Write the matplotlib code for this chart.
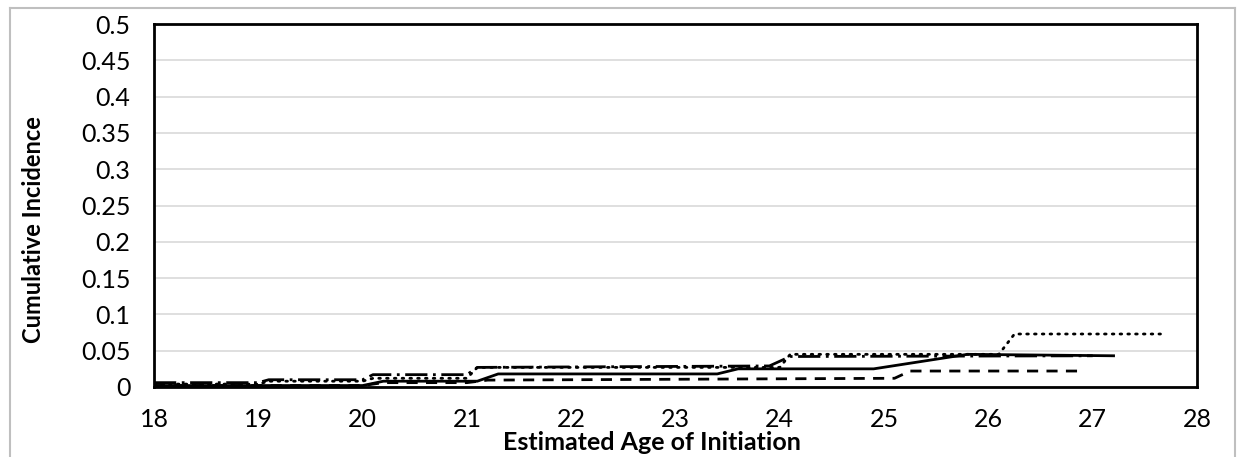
import matplotlib
matplotlib.use("Agg")
import matplotlib.pyplot as plt
from matplotlib.lines import Line2D

plt.rcParams['font.family'] = ['Lato', 'DejaVu Sans']

# ---- data ----
age_solid = [18.0, 20.0, 20.2, 21.1, 21.3, 23.4, 23.6, 24.9, 25.8, 27.2]
ci_solid = [0.002, 0.002, 0.008, 0.008, 0.018, 0.018, 0.025, 0.025, 0.045, 0.043]

age_dashed = [18.0, 20.0, 20.2, 21.0, 21.2, 25.1, 25.25, 26.9]
ci_dashed = [0.002, 0.002, 0.006, 0.006, 0.0095, 0.012, 0.022, 0.022]

age_dotted = [18.0, 19.0, 19.1, 20.0, 20.1, 21.0, 21.1, 24.0, 24.1, 26.1, 26.25, 27.65]
ci_dotted = [0.004, 0.004, 0.008, 0.008, 0.012, 0.012, 0.027, 0.027, 0.045, 0.045, 0.073, 0.073]

age_dashdot = [18.0, 19.0, 19.1, 20.0, 20.1, 21.0, 21.1, 23.9, 24.1, 27.0]
ci_dashdot = [0.006, 0.006, 0.010, 0.010, 0.017, 0.017, 0.027, 0.029, 0.042, 0.043]

x_ticks = [18, 19, 20, 21, 22, 23, 24, 25, 26, 27, 28]
y_ticks = [0, 0.05, 0.1, 0.15, 0.2, 0.25, 0.3, 0.35, 0.4, 0.45, 0.5]
y_tick_labels = ['0', '0.05', '0.1', '0.15', '0.2', '0.25', '0.3', '0.35', '0.4', '0.45', '0.5']

W, H = 1240, 457
fig = plt.figure(figsize=(W / 100, H / 100), dpi=100)

# outer grey frame (chart area border)
frame_col = '#bfbfbf'
fig.add_artist(Line2D([10 / W, 10 / W], [-0.1, 1 - 8 / H], transform=fig.transFigure, color=frame_col, lw=1.5))
fig.add_artist(Line2D([10 / W, 1235 / W], [1 - 8 / H, 1 - 8 / H], transform=fig.transFigure, color=frame_col, lw=1.5))
fig.add_artist(Line2D([1235 / W, 1235 / W], [-0.1, 1 - 8 / H], transform=fig.transFigure, color=frame_col, lw=1.5))

ax = fig.add_axes([154 / W, 1 - 387 / H, (1197 - 154) / W, (387 - 24) / H])

ax.plot(age_solid, ci_solid, color='black', lw=2.0, linestyle='-')
ax.plot(age_dashed, ci_dashed, color='black', lw=2.0, linestyle=(0, (4, 3)))
ax.plot(age_dotted, ci_dotted, color='black', lw=2.0, linestyle=(0, (0.6, 2.2)), dash_capstyle='round')
ax.plot(age_dashdot, ci_dashdot, color='black', lw=2.0, linestyle=(0, (8, 2, 1, 2)))

ax.set_xlim(18, 28)
ax.set_ylim(0, 0.5)
ax.set_xticks(x_ticks)
ax.set_xticklabels([str(t) for t in x_ticks], fontsize=18)
ax.set_yticks(y_ticks)
ax.set_yticklabels(y_tick_labels, fontsize=18)
ax.tick_params(axis='both', length=0)
ax.tick_params(axis='y', pad=17)
ax.tick_params(axis='x', pad=15)

ax.grid(axis='y', color='#d9d9d9', lw=1.2)
ax.set_axisbelow(True)
for s in ax.spines.values():
    s.set_linewidth(2.0)
    s.set_color('black')

fig.text(652 / W, 1 - 443 / H, 'Estimated Age of Initiation', fontsize=18, fontweight='bold',
         ha='center', va='center')
fig.text(34 / W, 1 - 230 / H, 'Cumulative Incidence', fontsize=17, fontweight='bold',
         ha='center', va='center', rotation=90)

fig.savefig('out.png', dpi=100)
